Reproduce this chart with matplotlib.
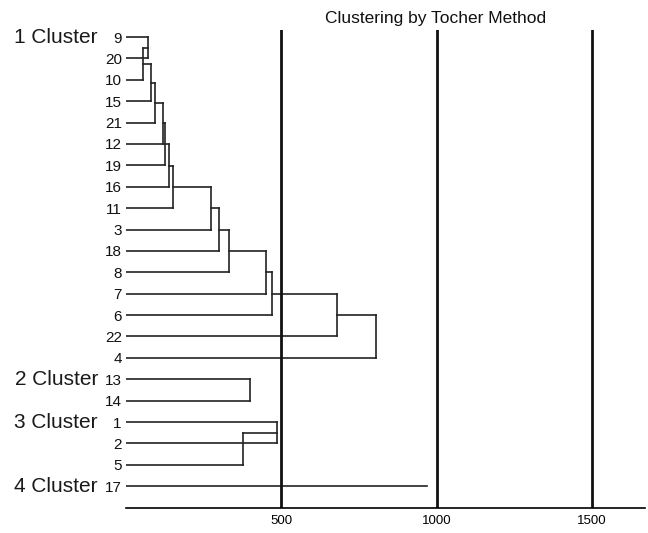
import matplotlib.pyplot as plt

plt.rcParams['font.family'] = ['Liberation Sans', 'DejaVu Sans']

# кластеры: порядок листьев и расстояния присоединения (цепочка Тохера)
cl1_leaves = ['9', '20', '10', '15', '21', '12', '19', '16', '11', '3', '18', '8', '7', '6', '22', '4']
cl1_heights = [71, 54, 80, 93, 118, 127, 138, 151, 274, 298, 332, 449, 470, 679, 805]
cl2_leaves = ['13', '14']
cl2_heights = [399]
cl3_leaves = ['1', '2', '5']
cl3_heights = [486, 377]
cl4_leaves = ['17']
cl4_heights = [969]

cluster_names = ['1 Cluster', '2 Cluster', '3 Cluster', '4 Cluster']
clusters = [(cl1_leaves, cl1_heights), (cl2_leaves, cl2_heights),
            (cl3_leaves, cl3_heights), (cl4_leaves, cl4_heights)]

ref_lines = [500, 1000, 1500]

fig = plt.figure(figsize=(6.48, 5.33), dpi=100)
ax = fig.add_axes([126 / 648, 25 / 533, 519 / 648, 478 / 533])

lw = 1.2
col = '#222222'
labels = []
pos = 0
for (leaves, heights), name in zip(clusters, cluster_names):
    ys = list(range(pos, pos + len(leaves)))
    labels += leaves
    if len(leaves) == 1:
        ax.plot([0, heights[0]], [ys[0], ys[0]], color=col, lw=lw)
    else:
        # первые два листа
        h = heights[0]
        ax.plot([0, h], [ys[0], ys[0]], color=col, lw=lw)
        ax.plot([0, h], [ys[1], ys[1]], color=col, lw=lw)
        ax.plot([h, h], [ys[0], ys[1]], color=col, lw=lw)
        node_y = (ys[0] + ys[1]) / 2
        node_x = h
        # остальные листья присоединяются к узлу по очереди
        for k in range(2, len(leaves)):
            h = heights[k - 1]
            ax.plot([0, h], [ys[k], ys[k]], color=col, lw=lw)
            ax.plot([node_x, h], [node_y, node_y], color=col, lw=lw)
            ax.plot([h, h], [node_y, ys[k]], color=col, lw=lw)
            node_y = (node_y + ys[k]) / 2
            node_x = h
    ax.annotate(name, xy=(0, ys[0]), xycoords=('axes fraction', 'data'),
                xytext=(-28, 0), textcoords='offset pixels',
                ha='right', va='center', fontsize=15, color='#1a1a1a')
    pos += len(leaves)

for v in ref_lines:
    ax.axvline(v, color='#111111', lw=2.0)

ax.set_xlim(0, 1670)
ax.set_ylim(pos - 1 + 1.02, -0.33)
ax.set_yticks(range(pos))
ax.set_yticklabels(labels, fontsize=11, color='#111111')
ax.tick_params(axis='y', length=0, pad=3)
ax.set_xticks(ref_lines)
ax.set_xticklabels([str(v) for v in ref_lines], fontsize=9.5)
ax.tick_params(axis='x', length=0, pad=5)
for s in ['top', 'right', 'left']:
    ax.spines[s].set_visible(False)
ax.spines['bottom'].set_linewidth(1.2)

fig.text(436 / 648, 1 - 18 / 533, 'Clustering by Tocher Method',
         ha='center', va='center', fontsize=12.5, color='#111111')

fig.savefig('out.png', dpi=100)
